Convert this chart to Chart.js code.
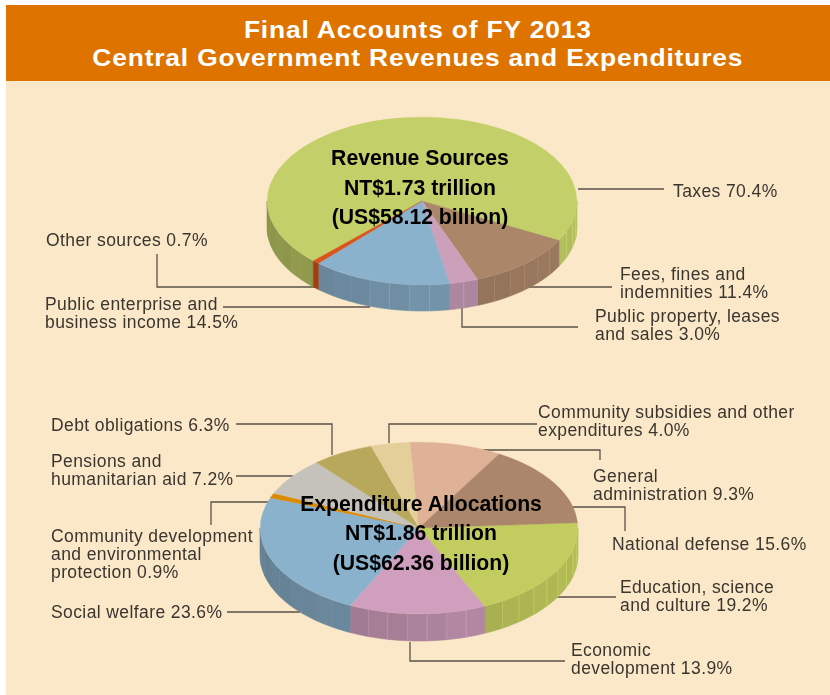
<!DOCTYPE html>
<html><head><meta charset="utf-8">
<script src="https://cdn.jsdelivr.net/npm/chart.js@4/dist/chart.umd.min.js"></script>
<style>
html,body{margin:0;padding:0;background:#fff;width:830px;height:695px;overflow:hidden}
#panel{position:absolute;left:6px;top:5px;width:824px;height:690px;background:#fbe8c9}
#banner{position:absolute;left:6px;top:5px;width:824px;height:76px;background:#de7300}
#banner div{position:absolute;left:0;width:100%;text-align:center;color:#fff;font:bold 24px "Liberation Sans",sans-serif;letter-spacing:0.75px;line-height:28px;white-space:nowrap;transform:scaleX(1.1);transform-origin:414px 50%}
canvas{position:absolute;left:0;top:0}
.lb{position:absolute;font:17.5px/18px "Liberation Sans",sans-serif;letter-spacing:0.4px;color:#3a352f;white-space:pre}
.ct{position:absolute;font:bold 21.2px/29.5px "Liberation Sans",sans-serif;color:#000;text-align:center;white-space:pre;transform:translateX(-50%)}
</style></head><body>
<div id="panel"></div>
<div id="banner"><div style="top:11px">Final Accounts of FY 2013</div><div style="top:39px">Central Government Revenues and Expenditures</div></div>
<canvas id="rev" width="830" height="695"></canvas>
<canvas id="exp" width="830" height="695"></canvas>
<script>
const revenueCategories=["Taxes","Fees, fines and\nindemnities","Public property, leases\nand sales","Public enterprise and\nbusiness income","Other sources"];
const revenueValues=[70.4,11.4,3.0,14.5,0.7];
const revenueColors=["#c3cf68","#ab8669","#cc9fbb","#8bb2cd","#d9531a"];
const expenditureCategories=["Education, science\nand culture","Economic\ndevelopment","Social welfare","Community development\nand environmental\nprotection","Pensions and\nhumanitarian aid","Debt obligations","Community subsidies and other\nexpenditures","General\nadministration","National defense"];
const expenditureValues=[19.2,13.9,23.6,0.9,7.2,6.3,4.0,9.3,15.6];
const expenditureColors=["#c3cc5e","#d09fbd","#8bb2cd","#dd8a00","#c4c2bb","#b8a85c","#e4cf9a","#dfb196","#ab866b"];
const revenueHeading="Revenue Sources\nNT$1.73 trillion\n(US$58.12 billion)";
const expenditureHeading="Expenditure Allocations\nNT$1.86 trillion\n(US$62.36 billion)";

// layout (not data)
const revLayout={cx:422,cy:201,rx:155,ry:84,depth:26,rotation:224.5,headX:420,headY:143};
const expLayout={cx:419,cy:528,rx:159,ry:86,depth:27,rotation:86.5,headX:421,headY:488.5};
const revLabelPos=[[673,182],[620,265],[595,307],[45,295],[46,231]];
const expLabelPos=[[620,578],[571,641],[51,603],[51,527],[51,452],[51,416],[538,403],[593,467],[612,535]];
const revLeaders=[[[578,189],[664,189]],[[528,287],[612,287]],[[462,308],[462,327],[578,327]],[[223,307],[370,307]],[[157,254],[157,287],[316,287]]];
const expLeaders=[[[557,597],[616,597]],[[410,642],[410,661],[565,661]],[[227,612],[300,612]],[[211,525],[211,502],[270,502]],[[236,476],[293,476]],[[236,424],[332,424],[332,455]],[[537,424],[389,424],[389,443]],[[483,450],[600,450],[600,460]],[[573,507],[625,507],[625,531]]];

function shade(hex,f){
  const n=parseInt(hex.slice(1),16);
  return `rgb(${Math.round((n>>16&255)*f)},${Math.round((n>>8&255)*f)},${Math.round((n&255)*f)})`;
}
function pie3d(L,leaders){
  return {
    id:'pie3d',
    beforeDatasetsDraw(chart){
      const c=chart.ctx;
      c.save();
      c.strokeStyle='#5a5247';c.lineWidth=1.3;
      leaders.forEach(p=>{c.beginPath();p.forEach((q,i)=>i?c.lineTo(q[0],q[1]):c.moveTo(q[0],q[1]));c.stroke();});
      const meta=chart.getDatasetMeta(0);
      const colors=chart.data.datasets[0].backgroundColor;
      const step=Math.PI/24;
      meta.data.forEach((arc,i)=>{
        const a0=arc.startAngle,a1=arc.endAngle;
        for(let k=-1;k<=2;k++){
          const lo=Math.max(a0,2*Math.PI*k),hi=Math.min(a1,2*Math.PI*k+Math.PI);
          if(hi<=lo)continue;
          const n=Math.max(1,Math.ceil((hi-lo)/step));
          for(let j=0;j<n;j++){
            const s=lo+(hi-lo)*j/n,e=lo+(hi-lo)*(j+1)/n,m=(s+e)/2;
            const f=0.72+0.2*(Math.cos(m)+1)/2+(j%2?0.006:-0.006);
            c.fillStyle=shade(colors[i],f);
            c.beginPath();
            c.moveTo(L.cx+L.rx*Math.cos(s),L.cy+L.ry*Math.sin(s));
            for(let t=1;t<=6;t++){const a=s+(e-s)*t/6;c.lineTo(L.cx+L.rx*Math.cos(a),L.cy+L.ry*Math.sin(a));}
            for(let t=6;t>=0;t--){const a=s+(e-s)*t/6;c.lineTo(L.cx+L.rx*Math.cos(a),L.cy+L.ry*Math.sin(a)+L.depth);}
            c.closePath();c.fill();
            c.strokeStyle=shade(colors[i],f);c.lineWidth=0.6;c.stroke();
            if(j>0&&Math.cos(s)>-0.45){
              c.strokeStyle=shade(colors[i],Math.min(1.05,f+0.14));c.lineWidth=0.7;
              c.beginPath();c.moveTo(L.cx+L.rx*Math.cos(s),L.cy+L.ry*Math.sin(s));
              c.lineTo(L.cx+L.rx*Math.cos(s),L.cy+L.ry*Math.sin(s)+L.depth);c.stroke();
            }
          }
        }
      });
      c.restore();
      c.save();
      c.translate(L.cx,L.cy);c.scale(1,L.ry/L.rx);c.translate(-L.cx,-L.cy);
    },
    afterDatasetsDraw(chart){chart.ctx.restore();}
  };
}
function makePie(id,cats,vals,cols,L,leaders){
  return new Chart(document.getElementById(id),{
    type:'pie',
    data:{labels:cats.map(s=>s.replace(/\n/g,' ')),datasets:[{data:vals,backgroundColor:cols,borderColor:cols,borderWidth:0.5,clip:false}]},
    options:{responsive:false,animation:false,rotation:L.rotation,
      layout:{padding:{left:L.cx-L.rx,right:830-L.cx-L.rx,top:L.cy-L.rx,bottom:695-L.cy-L.rx}},
      plugins:{legend:{display:false},tooltip:{enabled:false},title:{display:false}}},
    plugins:[pie3d(L,leaders)]
  });
}
makePie('rev',revenueCategories,revenueValues,revenueColors,revLayout,revLeaders);
makePie('exp',expenditureCategories,expenditureValues,expenditureColors,expLayout,expLeaders);
function addText(cls,x,y,t){const d=document.createElement('div');d.className=cls;d.style.left=x+'px';d.style.top=y+'px';d.textContent=t;document.body.appendChild(d);}
revenueCategories.forEach((s,i)=>addText('lb',revLabelPos[i][0],revLabelPos[i][1],s+' '+revenueValues[i].toFixed(1)+'%'));
expenditureCategories.forEach((s,i)=>addText('lb',expLabelPos[i][0],expLabelPos[i][1],s+' '+expenditureValues[i].toFixed(1)+'%'));
addText('ct',revLayout.headX,revLayout.headY,revenueHeading);
addText('ct',expLayout.headX,expLayout.headY,expenditureHeading);
</script>
</body></html>
